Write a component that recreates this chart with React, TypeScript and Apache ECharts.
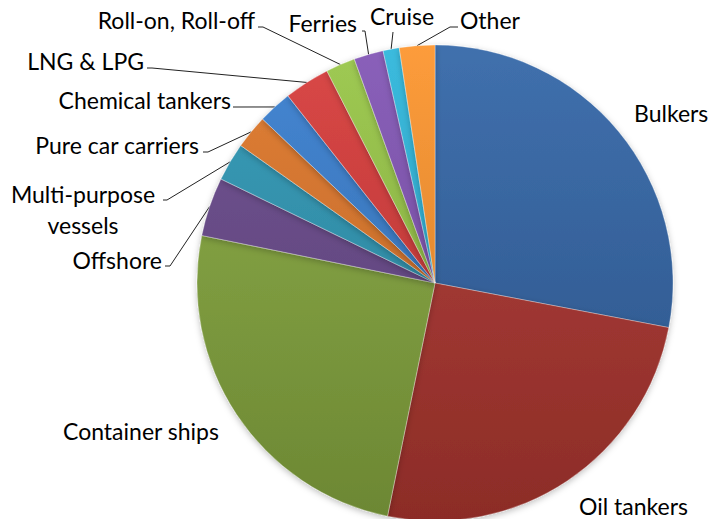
import React, { useEffect, useRef } from "react";
import * as echarts from "echarts";

// ---- data (shares of the fleet, %) ----
const categories = [
  "Bulkers",
  "Oil tankers",
  "Container ships",
  "Offshore",
  "Multi-purpose vessels",
  "Pure car carriers",
  "Chemical tankers",
  "LNG & LPG",
  "Roll-on, Roll-off",
  "Ferries",
  "Cruise",
  "Other",
];
const shares = [28.0, 25.2, 25.0, 4.0, 2.6, 2.3, 2.3, 3.1, 2.0, 2.0, 1.1, 2.4];

// ---- styles ----
const baseColors = [
  "#3467A8",
  "#AF3731",
  "#87A940",
  "#6A4B8D",
  "#2F98B6",
  "#E0782A",
  "#3A7FD0",
  "#D83C3B",
  "#99C748",
  "#8356B6",
  "#2EB7DC",
  "#FD962F",
];

// label placement (layout only)
type Spot = { x: number; y: number; align: string; hook?: [number, number]; elbow?: number };
const labelSpots: Spot[] = [
  { x: 634, y: 113, align: "left" },
  { x: 579, y: 506, align: "left" },
  { x: 63, y: 431, align: "left" },
  { x: 162, y: 260, align: "right", hook: [3, 6], elbow: 5 },
  { x: 83, y: 209, align: "center", hook: [80, -9], elbow: 4 },
  { x: 199, y: 145, align: "right", hook: [4, 7], elbow: 5 },
  { x: 231, y: 99.5, align: "right", hook: [2, 7.5], elbow: 5 },
  { x: 144, y: 60.5, align: "right", hook: [3, 7.5], elbow: 5 },
  { x: 255, y: 19.5, align: "right", hook: [3, 7.5], elbow: 5 },
  { x: 357, y: 22.5, align: "right", hook: [5, 8.5], elbow: 3 },
  { x: 402, y: 16, align: "center", hook: [-9, 16], elbow: 0 },
  { x: 460, y: 20, align: "left", hook: [-2, 7], elbow: -8 },
];

function shade(hex: string, f: number): string {
  const n = parseInt(hex.slice(1), 16);
  let r = (n >> 16) & 255,
    g = (n >> 8) & 255,
    b = n & 255;
  if (f >= 0) {
    r = r + (255 - r) * f;
    g = g + (255 - g) * f;
    b = b + (255 - b) * f;
  } else {
    r = r * (1 + f);
    g = g * (1 + f);
    b = b * (1 + f);
  }
  const h = (v: number) => Math.round(v).toString(16).padStart(2, "0");
  return "#" + h(r) + h(g) + h(b);
}

export default function App() {
  const ref = useRef<HTMLDivElement>(null);
  useEffect(() => {
    const chart = echarts.init(ref.current!, null, { renderer: "svg" });
    const noLine = new Set([0, 1, 2]);
    const data = categories.map((name, i) => ({
      name,
      value: shares[i],
      itemStyle: {
        color: {
          type: "linear",
          x: 0,
          y: 45,
          x2: 0,
          y2: 521,
          global: true,
          colorStops: [
            { offset: 0, color: shade(baseColors[i], 0.06) },
            { offset: 1, color: shade(baseColors[i], -0.2) },
          ],
        },
      },
      label: { lineHeight: i === 4 ? 31 : 24 },
      labelLine: { show: !noLine.has(i) },
    }));
    chart.setOption({
      animation: false,
      backgroundColor: "#ffffff",
      series: [
        {
          type: "pie",
          center: [435, 283],
          radius: 238,
          startAngle: 90,
          clockwise: true,
          avoidLabelOverlap: false,
          data,
          itemStyle: {
            borderColor: "rgba(255,255,255,0.3)",
            borderWidth: 1,
            shadowBlur: 6,
            shadowColor: "rgba(0,0,0,0.25)",
            shadowOffsetY: 2,
          },
          label: {
            show: true,
            position: "outside",
            color: "#000000",
            fontFamily: "Lato",
            fontSize: 23,
            formatter: (p: any) =>
              p.name === "Multi-purpose vessels" ? "Multi-purpose\nvessels" : p.name,
          },
          labelLine: {
            show: true,
            smooth: false,
            lineStyle: { color: "#222222", width: 1 },
          },
          labelLayout: (params: any) => {
            const s = labelSpots[params.dataIndex];
            const res: any = { x: s.x, y: s.y, align: s.align, verticalAlign: "middle" };
            if (s.hook && params.labelLinePoints) {
              const p0 = params.labelLinePoints[0];
              const end = [s.x + s.hook[0], s.y + s.hook[1]];
              const elbow = [end[0] + (s.elbow || 0), end[1]];
              res.labelLinePoints = [p0, elbow, end];
            }
            return res;
          },
        },
      ],
    });
    return () => chart.dispose();
  }, []);
  return (
    <div
      ref={ref}
      style={{ position: "fixed", left: 0, top: 0, width: 708, height: 519, background: "#fff" }}
    />
  );
}
